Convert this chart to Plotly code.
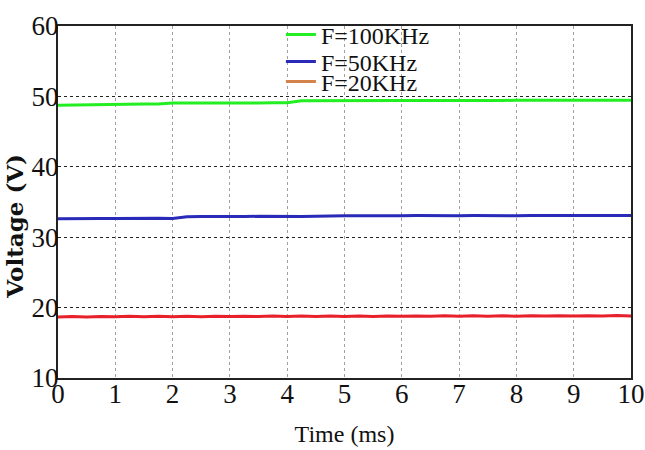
import plotly.graph_objects as go

time_ms = [0.0, 0.25, 0.5, 0.75, 1.0, 1.25, 1.5, 1.75, 2.0, 2.25, 2.5, 2.75, 3.0, 3.25,
           3.5, 3.75, 4.0, 4.25, 4.5, 4.75, 5.0, 5.25, 5.5, 5.75, 6.0, 6.25, 6.5, 6.75,
           7.0, 7.25, 7.5, 7.75, 8.0, 8.25, 8.5, 8.75, 9.0, 9.25, 9.5, 9.75, 10.0]

v_100k = [48.74, 48.78, 48.80, 48.90, 48.92, 48.90, 48.93, 48.92, 49.05, 49.07, 49.05, 49.08,
          49.06, 49.08, 49.07, 49.09, 49.10, 49.38, 49.40, 49.39, 49.41, 49.40, 49.42, 49.41,
          49.42, 49.41, 49.43, 49.42, 49.43, 49.42, 49.44, 49.43, 49.44, 49.43, 49.45, 49.44,
          49.45, 49.44, 49.45, 49.44, 49.45]

v_50k = [32.62, 32.66, 32.63, 32.67, 32.64, 32.68, 32.65, 32.69, 32.66, 32.92, 32.95, 32.92,
         32.96, 32.93, 32.97, 32.94, 32.98, 32.95, 32.99, 32.96, 33.03, 33.06, 33.03, 33.07,
         33.04, 33.07, 33.04, 33.08, 33.05, 33.08, 33.05, 33.09, 33.06, 33.09, 33.06, 33.10,
         33.07, 33.10, 33.07, 33.10, 33.08]

v_20k = [18.68, 18.74, 18.67, 18.75, 18.69, 18.76, 18.70, 18.76, 18.70, 18.77, 18.71, 18.78,
         18.72, 18.78, 18.72, 18.79, 18.73, 18.80, 18.74, 18.80, 18.74, 18.81, 18.75, 18.82,
         18.76, 18.82, 18.76, 18.83, 18.77, 18.84, 18.78, 18.84, 18.78, 18.85, 18.79, 18.86,
         18.80, 18.86, 18.80, 18.87, 18.81]

legend_names = ["F=100KHz", "F=50KHz", "F=20KHz"]
x_ticks = [0, 1, 2, 3, 4, 5, 6, 7, 8, 9, 10]
y_ticks = [10, 20, 30, 40, 50, 60]

serif = "Liberation Serif, Times New Roman, serif"

fig = go.Figure()
fig.add_trace(go.Scatter(x=time_ms, y=v_100k, mode="lines", name=legend_names[0],
                         legend="legend", line=dict(color="#22ee22", width=3)))
fig.add_trace(go.Scatter(x=time_ms, y=v_50k, mode="lines", name=legend_names[1],
                         legend="legend2", line=dict(color="#2a2ab8", width=3)))
fig.add_trace(go.Scatter(x=time_ms, y=v_20k, mode="lines", name=legend_names[2],
                         showlegend=False, line=dict(color="#e8202a", width=3)))
# legend swatch for the 20 kHz entry is drawn in orange in the original
fig.add_trace(go.Scatter(x=[None], y=[None], mode="lines", name=legend_names[2],
                         legend="legend3", line=dict(color="#d4844a", width=3)))

leg_common = dict(x=0.389, xanchor="left", yanchor="middle",
                  bgcolor="rgba(0,0,0,0)", font=dict(family=serif, size=24),
                  borderwidth=0, itemwidth=30)

fig.update_layout(
    width=645, height=450,
    margin=dict(l=58, r=14, t=15, b=72),
    paper_bgcolor="white", plot_bgcolor="white",
    font=dict(family=serif, color="#111", size=22),
    showlegend=True,
    legend=dict(y=0.975, **leg_common),
    legend2=dict(y=0.898, **leg_common),
    legend3=dict(y=0.841, **leg_common),
    xaxis=dict(range=[0, 10], tickvals=x_ticks, ticktext=[str(t) for t in x_ticks],
               showgrid=True, gridcolor="#a0a0a0", griddash="dot", gridwidth=1,
               showline=True, linecolor="#222", linewidth=2, mirror=True,
               ticks="", zeroline=False, tickfont=dict(size=27), automargin=False,
               ticklabelstandoff=-9, ticklabeloverflow="allow",
               title=dict(text="Time (ms)", font=dict(size=24), standoff=17)),
    yaxis=dict(range=[10, 60], tickvals=y_ticks, ticktext=[str(t) for t in y_ticks],
               showgrid=True, gridcolor="#222", griddash="dot", gridwidth=1,
               showline=True, linecolor="#222", linewidth=2, mirror=True,
               ticks="", zeroline=False, tickfont=dict(size=27), automargin=False,
               ticklabelstandoff=-8, ticklabeloverflow="allow"),
    annotations=[dict(text="<b>Voltage (V)</b>", xref="paper", yref="paper",
                      x=-0.075, y=0.43, xanchor="center", yanchor="middle",
                      textangle=-90, showarrow=False,
                      font=dict(family="DejaVu Serif, serif", size=23, color="#111"))],
)

fig.write_html("out.html", config={"displayModeBar": False},
               post_script="document.body.style.margin='0';document.body.style.overflow='hidden';")
